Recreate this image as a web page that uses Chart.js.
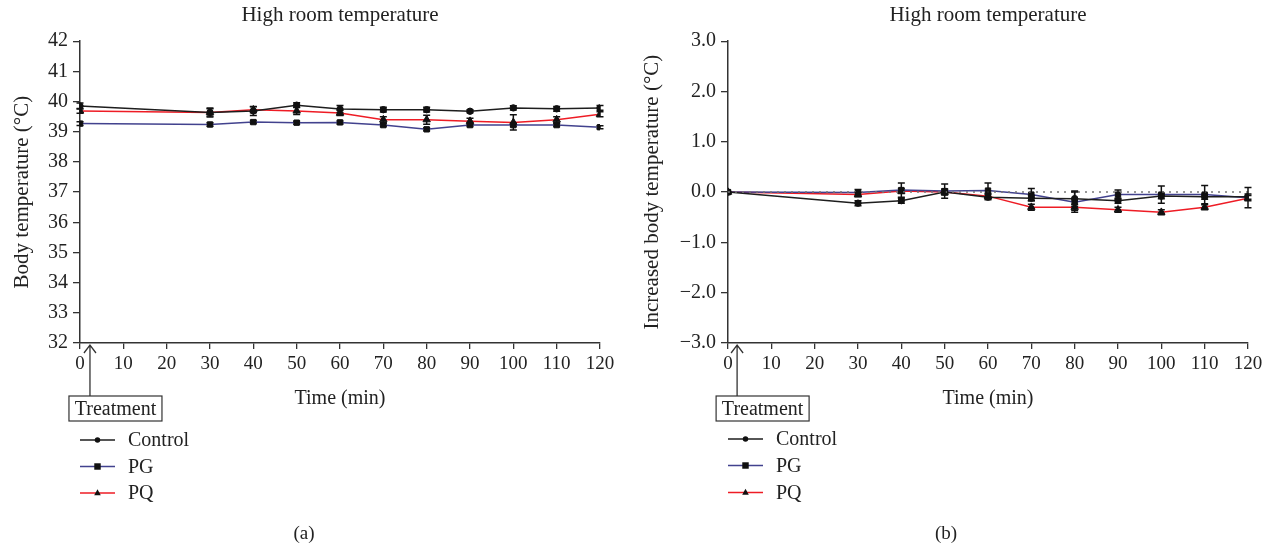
<!DOCTYPE html>
<html><head><meta charset="utf-8">
<script src="https://cdn.jsdelivr.net/npm/chart.js@4/dist/chart.umd.min.js"></script>
<style>
html,body{margin:0;padding:0;background:#fff;}
#wrap{position:relative;width:1268px;height:548px;overflow:hidden;}
.panel{position:absolute;top:0;width:634px;height:548px;}
</style></head><body>
<div id="wrap">
<div class="panel" style="left:0"><canvas id="ca" width="634" height="548"></canvas></div>
<div class="panel" style="left:634px"><canvas id="cb" width="634" height="548"></canvas></div>
</div>
<script>
// ---- data ----
const timeMin = [0, 30, 40, 50, 60, 70, 80, 90, 100, 110, 120];
const seriesNames = ['Control', 'PG', 'PQ'];
const panelTitle = 'High room temperature';
const panelLabels = ['(a)', '(b)'];

// (a) body temperature (°C)
const controlTemp = [39.85, 39.64, 39.69, 39.88, 39.75, 39.73, 39.73, 39.68, 39.79, 39.76, 39.79];
const pgTemp      = [39.27, 39.24, 39.32, 39.30, 39.31, 39.22, 39.08, 39.22, 39.22, 39.22, 39.15];
const pqTemp      = [39.69, 39.64, 39.73, 39.69, 39.62, 39.40, 39.40, 39.35, 39.31, 39.40, 39.58];
const controlTempErr = [0.10, 0.15, 0.15, 0.08, 0.12, 0.08, 0.08, 0.05, 0.07, 0.08, 0.08];
const pgTempErr      = [0.06, 0.06, 0.05, 0.05, 0.05, 0.05, 0.05, 0.05, 0.05, 0.05, 0.05];
const pqTempErr      = [0.08, 0.12, 0.10, 0.12, 0.08, 0.10, 0.15, 0.10, 0.25, 0.10, 0.08];

// (b) increased body temperature (°C)
const controlInc = [0, -0.22, -0.17, 0.00, -0.10, -0.12, -0.13, -0.17, -0.08, -0.09, -0.09];
const pgInc      = [0, -0.01,  0.04, 0.02,  0.03, -0.05, -0.20, -0.05, -0.05, -0.05, -0.11];
const pqInc      = [0, -0.05,  0.02, 0.00, -0.08, -0.30, -0.30, -0.35, -0.40, -0.30, -0.12];
const controlIncErr = [0, 0.05, 0.05, 0.06, 0.05, 0.05, 0.15, 0.05, 0.05, 0.05, 0.05];
const pgIncErr      = [0, 0.06, 0.14, 0.14, 0.15, 0.12, 0.20, 0.09, 0.17, 0.18, 0.20];
const pqIncErr      = [0, 0.04, 0.05, 0.05, 0.05, 0.06, 0.06, 0.05, 0.05, 0.05, 0.05];
const zeroLine = [0, 0];
const zeroLineX = [0, 120];

// ---- styling ----
const FONT = "'Liberation Serif', 'Times New Roman', serif";
const INK = '#222';
const AXIS = '#333';
const lineColors = ['#1e1e1e', '#42428e', '#ee1c25'];
const markers = ['circle', 'rect', 'triangle'];
const markerRadius = [3.2, 3.8, 4.3];

Chart.defaults.font.family = FONT;
Chart.defaults.color = INK;

const pts = (xs, ys) => xs.map((x, i) => ({x: x, y: ys[i]}));

function seriesSet(vals, errs) {
  return vals.map((v, k) => ({
    label: seriesNames[k],
    data: pts(timeMin, v),
    errors: errs[k],
    borderColor: lineColors[k],
    borderWidth: 1.5,
    pointStyle: markers[k],
    pointRadius: markerRadius[k],
    pointBackgroundColor: '#111',
    pointBorderColor: '#111',
    pointBorderWidth: 1,
    tension: 0,
    fill: false
  }));
}

// error bars drawn through the chart's scales
const errorBars = {
  id: 'errorBars',
  afterDatasetsDraw(chart) {
    const {ctx, scales: {x, y}} = chart;
    ctx.save();
    ctx.strokeStyle = '#111';
    ctx.lineWidth = 1.5;
    chart.data.datasets.forEach(ds => {
      if (!ds.errors) return;
      ds.data.forEach((p, i) => {
        const e = ds.errors[i];
        if (!e) return;
        const px = x.getPixelForValue(p.x);
        const y1 = y.getPixelForValue(p.y + e);
        const y2 = y.getPixelForValue(p.y - e);
        ctx.beginPath();
        ctx.moveTo(px, y1); ctx.lineTo(px, y2);
        ctx.moveTo(px - 3.5, y1); ctx.lineTo(px + 3.5, y1);
        ctx.moveTo(px - 3.5, y2); ctx.lineTo(px + 3.5, y2);
        ctx.stroke();
      });
    });
    ctx.restore();
  }
};

function drawMarker(ctx, style, cx, cy, r) {
  ctx.beginPath();
  if (style === 'circle') {
    ctx.arc(cx, cy, r, 0, Math.PI * 2);
  } else if (style === 'rect') {
    ctx.rect(cx - r, cy - r, 2 * r, 2 * r);
  } else {
    ctx.moveTo(cx, cy - r);
    ctx.lineTo(cx + r * 0.9, cy + r * 0.6);
    ctx.lineTo(cx - r * 0.9, cy + r * 0.6);
    ctx.closePath();
  }
  ctx.fill();
}

// treatment arrow, legend and panel label
const extras = {
  id: 'extras',
  afterDraw(chart, args, opts) {
    const {ctx, chartArea, scales: {x}} = chart;
    ctx.save();
    // treatment arrow + box
    const ax = x.getPixelForValue(opts.treatmentAt);
    const tipY = chartArea.bottom + 2;
    const boxTop = 396;
    ctx.strokeStyle = '#333';
    ctx.lineWidth = 1.3;
    ctx.beginPath();
    ctx.moveTo(ax, boxTop); ctx.lineTo(ax, tipY);
    ctx.moveTo(ax - 6, tipY + 8); ctx.lineTo(ax, tipY); ctx.lineTo(ax + 6, tipY + 8);
    ctx.stroke();
    const bx = ax - 21, bw = 93, bh = 25;
    ctx.lineWidth = 1.2;
    ctx.strokeRect(bx, boxTop, bw, bh);
    ctx.fillStyle = INK;
    ctx.font = '20px ' + FONT;
    ctx.textAlign = 'center';
    ctx.textBaseline = 'middle';
    ctx.fillText('Treatment', bx + bw / 2, boxTop + bh / 2 + 1);

    // legend
    const lx = chartArea.left;
    const rows = opts.legendRows;
    let k = 0;
    chart.data.datasets.forEach(ds => {
      if (!ds.errors) return;
      const ry = rows[k];
      ctx.strokeStyle = ds.borderColor;
      ctx.lineWidth = 1.5;
      ctx.beginPath();
      ctx.moveTo(lx, ry); ctx.lineTo(lx + 35, ry);
      ctx.stroke();
      ctx.fillStyle = '#111';
      drawMarker(ctx, ds.pointStyle, lx + 17.5, ry, ds.pointRadius * 0.85);
      ctx.fillStyle = INK;
      ctx.textAlign = 'left';
      ctx.fillText(ds.label, lx + 48, ry + 1);
      k++;
    });

    // panel label
    ctx.font = '19px ' + FONT;
    ctx.textAlign = 'center';
    ctx.fillText(opts.panelLabel, opts.panelLabelX, 534);
    ctx.restore();
  }
};

function makeChart(id, datasets, yCfg, yWidth, yTitlePad, padRight, extraOpts) {
  return new Chart(document.getElementById(id), {
    type: 'line',
    data: {datasets: datasets},
    plugins: [errorBars, extras],
    options: {
      responsive: false,
      animation: false,
      devicePixelRatio: 1,
      layout: {padding: {left: 0, right: padRight, top: 0, bottom: 137}},
      plugins: {
        legend: {display: false},
        tooltip: {enabled: false},
        title: {
          display: true, text: panelTitle, fullSize: false,
          font: {size: 21, weight: 'normal', family: FONT}, color: INK,
          padding: {top: 3, bottom: 13}
        },
        extras: extraOpts
      },
      scales: {
        x: {
          type: 'linear', min: 0, max: 120,
          afterFit: s => { s.height = 68; },
          ticks: {stepSize: 10, autoSkip: false, maxRotation: 0, padding: 4,
                  font: {size: 19}, color: INK},
          grid: {drawOnChartArea: false, tickLength: 6, color: AXIS, lineWidth: 1.3},
          border: {color: AXIS, width: 1.5},
          title: {display: true, text: 'Time (min)', font: {size: 20}, color: INK,
                  padding: {top: 0, bottom: 0}}
        },
        y: Object.assign({
          afterFit: s => { s.width = yWidth; },
          grid: {drawOnChartArea: false, tickLength: 7, color: AXIS, lineWidth: 1.3},
          border: {color: AXIS, width: 1.5}
        }, yCfg, {
          title: Object.assign({display: true, font: {size: 21}, color: INK,
                  padding: {top: yTitlePad, bottom: 0}}, yCfg.title)
        })
      }
    }
  });
}

// (a)
makeChart('ca',
  seriesSet([controlTemp, pgTemp, pqTemp], [controlTempErr, pgTempErr, pqTempErr]),
  {
    min: 32, max: 42,
    ticks: {stepSize: 1, padding: 5, font: {size: 20}, color: INK,
            callback: v => String(v)},
    title: {text: 'Body temperature (°C)'}
  },
  80, 10, 34,
  {treatmentAt: 2.3, legendRows: [440, 466.5, 493], panelLabel: panelLabels[0], panelLabelX: 304}
);

// (b)
const refLine = {
  label: '', data: pts(zeroLineX, zeroLine),
  borderColor: '#777', borderWidth: 1.5, borderDash: [2, 5],
  pointRadius: 0, fill: false
};
makeChart('cb',
  [refLine].concat(seriesSet([controlInc, pgInc, pqInc], [controlIncErr, pgIncErr, pqIncErr])),
  {
    min: -3, max: 3,
    ticks: {stepSize: 1, padding: 5, font: {size: 20}, color: INK,
            callback: v => (v < 0 ? '\u2212' : '') + Math.abs(v).toFixed(1)},
    title: {text: 'Increased body temperature (°C)'}
  },
  94, 6, 20,
  {treatmentAt: 2.1, legendRows: [439, 465.5, 492.5], panelLabel: panelLabels[1], panelLabelX: 312}
);
</script>
</body></html>
